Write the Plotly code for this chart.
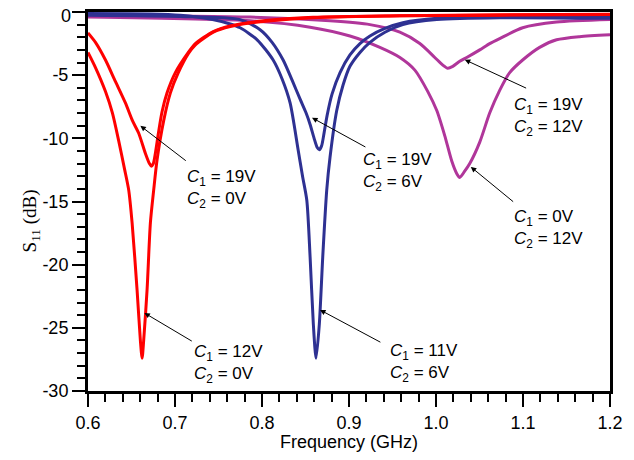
import plotly.graph_objects as go

# ---- data (frequency in GHz, S11 in dB) ----
f_red_12_0 = [0.600, 0.6086, 0.6201, 0.6281, 0.6353, 0.6419, 0.6468, 0.6507, 0.6564, 0.6602,
              0.6622, 0.6640, 0.6679, 0.6717, 0.6755, 0.6794, 0.6870, 0.6947, 0.7038, 0.7153,
              0.7234, 0.7440, 0.7635, 0.8013, 0.8587, 0.9585, 1.0732, 1.2]
s_red_12_0 = [-3.2, -4.4, -6.3, -8.0, -10.2, -12.4, -14.1, -16.7, -22.0, -26.0,
              -27.4, -26.0, -22.0, -16.7, -14.1, -11.7, -8.6, -6.4, -4.8, -3.3,
              -2.6, -1.6, -1.15, -0.75, -0.45, -0.3, -0.25, -0.2]

f_red_19_0 = [0.600, 0.6086, 0.6201, 0.6315, 0.6430, 0.6511, 0.6583, 0.6660, 0.6706, 0.6728,
              0.6751, 0.6774, 0.6809, 0.6851, 0.6909, 0.7004, 0.7153, 0.7234, 0.7440, 0.7635,
              0.8013, 0.8587, 0.9585, 1.0732, 1.2]
s_red_19_0 = [-1.65, -2.4, -3.8, -5.5, -7.2, -8.6, -9.6, -11.2, -12.0, -12.2,
              -12.0, -11.2, -9.6, -7.9, -6.4, -4.8, -3.2, -2.5, -1.55, -1.1,
              -0.7, -0.42, -0.3, -0.22, -0.18]

f_blue_11_6 = [0.600, 0.6717, 0.7061, 0.7405, 0.7635, 0.7749, 0.7944, 0.8128, 0.8231, 0.8323,
               0.8415, 0.8466, 0.8515, 0.8553, 0.8590, 0.8621, 0.8659, 0.8698, 0.8744, 0.8782,
               0.8859, 0.8931, 0.9011, 0.9126, 0.9241, 0.9413, 0.9619, 1.0009, 1.0732, 1.2]
s_blue_11_6 = [-0.12, -0.15, -0.25, -0.55, -0.95, -1.25, -2.2, -3.8, -5.3, -7.2,
               -10.9, -13.0, -14.9, -19.4, -24.7, -27.4, -24.7, -19.4, -14.1, -11.5,
               -7.8, -5.8, -4.3, -3.2, -2.4, -1.6, -1.0, -0.6, -0.45, -0.5]

f_blue_19_6 = [0.600, 0.7061, 0.7749, 0.7978, 0.8116, 0.8243, 0.8346, 0.8438, 0.8507, 0.8553,
               0.8599, 0.8633, 0.8659, 0.8685, 0.8713, 0.8748, 0.8805, 0.8897, 0.9011, 0.9126,
               0.9241, 0.9413, 0.9619, 1.0009, 1.0732, 1.2]
s_blue_19_6 = [-0.25, -0.35, -0.6, -1.4, -2.4, -3.8, -5.4, -6.9, -8.0, -8.9,
               -10.0, -10.7, -10.9, -10.6, -9.6, -8.2, -6.5, -4.8, -3.4, -2.5,
               -1.9, -1.3, -0.85, -0.5, -0.4, -0.4]

f_mag_0_12 = [0.600, 0.7864, 0.8553, 0.9011, 0.9355, 0.9585, 0.9757, 0.9906, 1.0009, 1.0101,
              1.0181, 1.0239, 1.0273, 1.0330, 1.0388, 1.0503, 1.0617, 1.0732, 1.0847, 1.0996,
              1.1191, 1.1386, 1.1650, 1.2]
s_mag_0_12 = [-0.4, -0.7, -1.2, -1.9, -2.8, -3.6, -4.6, -6.3, -7.8, -9.8,
              -11.8, -12.8, -13.1, -12.6, -12.0, -10.3, -8.0, -6.2, -4.8, -3.8,
              -2.8, -2.2, -1.95, -1.8]

f_mag_19_12 = [0.600, 0.7864, 0.8782, 0.9241, 0.9585, 0.9814, 0.9986, 1.0078, 1.0135, 1.0193,
               1.0273, 1.0353, 1.0503, 1.0617, 1.0732, 1.0996, 1.1386, 1.2]
s_mag_19_12 = [-0.25, -0.4, -0.7, -1.0, -1.6, -2.5, -3.6, -4.2, -4.45, -4.3,
               -3.9, -3.6, -3.0, -2.5, -2.1, -1.25, -0.8, -0.6]

x_ticks = [0.6, 0.7, 0.8, 0.9, 1.0, 1.1, 1.2]
x_tick_labels = ["0.6", "0.7", "0.8", "0.9", "1.0", "1.1", "1.2"]
y_ticks = [-30, -25, -20, -15, -10, -5, 0]
y_tick_labels = ["-30", "-25", "-20", "-15", "-10", "-5", "0"]

# label: (C1 value, C2 value, arrow tip (f, dB), arrow tail (f, dB), text left-middle (f, dB))
labels = [
    ("19V", "0V", (0.6602, -9.01), (0.7141, -11.86), (0.7118, -14.0)),
    ("12V", "0V", (0.6648, -23.82), (0.7210, -26.12), (0.7199, -27.86)),
    ("19V", "6V", (0.8575, -8.37), (0.9206, -10.75), (0.9138, -12.65)),
    ("11V", "6V", (0.8667, -23.58), (0.9378, -26.2), (0.9447, -27.82)),
    ("19V", "12V", (1.0331, -3.78), (1.1053, -6.08), (1.0870, -8.33)),
    ("0V", "12V", (1.0400, -12.26), (1.0904, -15.11), (1.0870, -17.17)),
]

red = "#FF0000"
blue = "#2E3192"
mag = "#B0369A"

fig = go.Figure()
series = [
    (f_mag_0_12, s_mag_0_12, mag),
    (f_mag_19_12, s_mag_19_12, mag),
    (f_blue_11_6, s_blue_11_6, blue),
    (f_blue_19_6, s_blue_19_6, blue),
    (f_red_12_0, s_red_12_0, red),
    (f_red_19_0, s_red_19_0, red),
]
for fx, sy, col in series:
    fig.add_trace(go.Scatter(x=fx, y=sy, mode="lines",
                             line=dict(color=col, width=3, shape="spline", smoothing=0.7),
                             hoverinfo="skip", showlegend=False))

font_lbl = dict(family="Liberation Sans, Arial, sans-serif", size=17, color="black")
annotations = []
for v1, v2, tip, tail, anch in labels:
    annotations.append(dict(x=tip[0], y=tip[1], ax=tail[0], ay=tail[1],
                            xref="x", yref="y", axref="x", ayref="y",
                            text="", showarrow=True, arrowhead=2, arrowsize=1.1,
                            arrowwidth=1, arrowcolor="black"))
    annotations.append(dict(x=anch[0], y=anch[1], xref="x", yref="y",
                            text=f"<i>C</i><sub>1</sub> = {v1}<br><i>C</i><sub>2</sub> = {v2}",
                            showarrow=False, xanchor="left", yanchor="middle", align="left",
                            font=font_lbl))

# top y tick label (plotly drops it at the very edge of the page)
annotations.append(dict(x=0, y=y_ticks[-1], xref="paper", yref="y",
                        text=y_tick_labels[-1], showarrow=False,
                        xanchor="right", yanchor="middle", xshift=-15, yshift=-4,
                        font=dict(family="Liberation Sans, Arial, sans-serif", size=18, color="black")))

annotations.append(dict(x=0.5, y=-0.135, xref="paper", yref="paper",
                        text="Frequency (GHz)", showarrow=False,
                        xanchor="center", yanchor="middle",
                        font=dict(family="Liberation Sans, Arial, sans-serif", size=18, color="black")))
annotations.append(dict(x=-0.11, y=0.449, xref="paper", yref="paper",
                        text="S<sub>11</sub> (dB)", showarrow=False, textangle=-90,
                        xanchor="center", yanchor="middle",
                        font=dict(family="Liberation Serif, Times New Roman, serif", size=19, color="black")))

# the page body adds an 8 px margin, so the figure is sized to fit the 634x460 window
fig.update_layout(
    width=618, height=444,
    margin=dict(l=80, r=16, t=4, b=61, autoexpand=False),
    paper_bgcolor="white", plot_bgcolor="white",
    annotations=annotations,
    font=dict(family="Liberation Sans, Arial, sans-serif", size=16, color="black"),
)
common = dict(ticks="outside", ticklen=13, tickwidth=2, tickcolor="black",
              showline=True, linewidth=3, linecolor="black", mirror=True,
              showgrid=False, zeroline=False, automargin=False,
              tickfont=dict(size=18, family="Liberation Sans, Arial, sans-serif"))
fig.update_xaxes(range=[0.6, 1.2], tickmode="array", tickvals=x_ticks, ticktext=x_tick_labels,
                 minor=dict(dtick=0.02, tick0=0.6, ticks="outside", ticklen=8, tickwidth=2,
                            tickcolor="black", showgrid=False), **common)
fig.update_yaxes(range=[-30, 0], tickmode="array", tickvals=y_ticks, ticktext=y_tick_labels,
                 minor=dict(dtick=1, tick0=0, ticks="outside", ticklen=8, tickwidth=2,
                            tickcolor="black", showgrid=False), **common)

fig.write_html("out.html")
